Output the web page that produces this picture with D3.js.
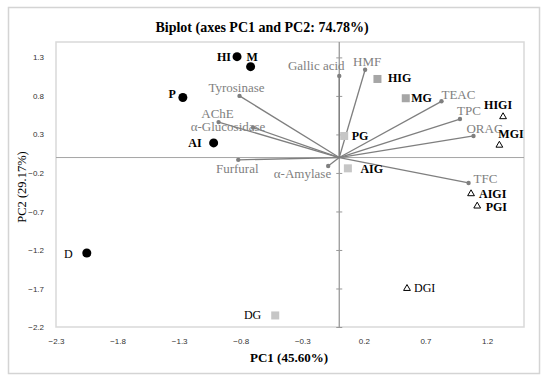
<!DOCTYPE html>
<html>
<head>
<meta charset="utf-8">
<script src="https://cdn.jsdelivr.net/npm/d3@7"></script>
<style>
  body { margin: 0; background: #fff; }
</style>
</head>
<body>
<script>

// sample scores
const sampleNames = ["HI", "M", "P", "AI", "D", "HIG", "MG", "PG", "AIG", "DG", "HIGI", "MGI", "AIGI", "PGI", "DGI"];
const samplePC1 = [-0.83, -0.72, -1.27, -1.02, -2.05, 0.31, 0.54, 0.04, 0.07, -0.52, 1.33, 1.30, 1.07, 1.12, 0.55];
const samplePC2 = [1.31, 1.18, 0.78, 0.19, -1.24, 1.02, 0.77, 0.28, -0.14, -2.05, 0.53, 0.16, -0.47, -0.63, -1.70];
const sampleGroup = ["circle", "circle", "circle", "circle", "circle",
    "square", "square", "square", "square", "square",
    "triangle", "triangle", "triangle", "triangle", "triangle"];

// variable loadings
const varNames = ["Gallic acid", "HMF", "TEAC", "TPC", "ORAC", "TFC", "α-Amylase", "Tyrosinase", "AChE", "α-Glucosidase", "Furfural"];
const varPC1 = [0.00, 0.21, 0.83, 0.98, 1.09, 1.05, -0.09, -0.81, -0.98, -0.70, -0.82];
const varPC2 = [1.06, 1.14, 0.73, 0.50, 0.28, -0.33, -0.11, 0.80, 0.46, 0.39, -0.03];

const xTicks = [-2.3, -1.8, -1.3, -0.8, -0.3, 0.2, 0.7, 1.2];
const yTicks = [-2.2, -1.7, -1.2, -0.7, -0.2, 0.3, 0.8, 1.3];

// label placement: [anchor, dx, dy]
const sampleLabelPos = {
    "HI": ["end", -6, 4], "M": ["start", -4, -5.5], "P": ["end", -7, 0.5], "AI": ["end", -12, 4.5],
    "D": ["end", -14, 4.5], "HIG": ["start", 10.5, 2.7], "MG": ["start", 5.5, 4], "PG": ["start", 7.5, 4.3],
    "AIG": ["start", 12.5, 4.7], "DG": ["end", -14, 3.8], "HIGI": ["middle", -5, -7.3], "MGI": ["start", -1, -7],
    "AIGI": ["start", 8, 4.6], "PGI": ["start", 8.5, 4.6], "DGI": ["start", 7, 3.6]
};
const varLabelPos = {
    "Gallic acid": ["middle", -23, -6], "HMF": ["middle", 2, -4], "TEAC": ["start", 0, -2],
    "TPC": ["middle", 9, -4], "ORAC": ["middle", 11, -3], "TFC": ["start", 5, 0.5],
    "α-Amylase": ["end", 3, 12], "Tyrosinase": ["middle", -3, -4], "AChE": ["middle", -1, -4],
    "α-Glucosidase": ["middle", -25, 3], "Furfural": ["middle", -1, 13]
};
const regularLabels = ["D", "DG", "DGI"];
const darkSquares = ["HIG", "MG"];

const width = 550, height = 382;
const margin = {top: 42, right: 26, bottom: 55, left: 56};
const serif = "'Liberation Serif', 'Times New Roman', serif";

const svg = d3.select("body").append("svg")
    .attr("width", width)
    .attr("height", height);

// outer frame
svg.append("rect")
    .attr("x", 8.5).attr("y", 7.5)
    .attr("width", 531).attr("height", 366)
    .attr("fill", "none")
    .attr("stroke", "#d4d4d4")
    .attr("stroke-width", 1.5);

const x = d3.scaleLinear().domain([-2.3, 1.5]).range([margin.left, width - margin.right]);
const y = d3.scaleLinear().domain([-2.2, 1.5]).range([height - margin.bottom, margin.top]);

// plot area border
svg.append("rect")
    .attr("x", x(-2.3)).attr("y", y(1.5))
    .attr("width", x(1.5) - x(-2.3)).attr("height", y(-2.2) - y(1.5))
    .attr("fill", "none")
    .attr("stroke", "#d9d9d9")
    .attr("stroke-width", 1.5);

// title
svg.append("text")
    .attr("x", 262).attr("y", 32)
    .attr("text-anchor", "middle")
    .style("font-family", serif)
    .style("font-size", "14px")
    .style("font-weight", "bold")
    .text("Biplot (axes PC1 and PC2: 74.78%)");

// tick labels
const xAxis = svg.append("g")
    .attr("transform", `translate(0, ${y(-2.2) + 8})`)
    .call(d3.axisBottom(x).tickValues(xTicks).tickSize(0).tickFormat(d3.format(".1f")));
const yAxis = svg.append("g")
    .attr("transform", `translate(${x(-2.3) - 9}, 0)`)
    .call(d3.axisLeft(y).tickValues(yTicks).tickSize(0).tickFormat(d3.format(".1f")));
[xAxis, yAxis].forEach(g => {
    g.select(".domain").remove();
    g.selectAll("text")
        .style("font-family", "'Liberation Sans', Arial, sans-serif")
        .style("font-size", "8px")
        .attr("fill", "#333");
});

// zero lines
svg.append("line")
    .attr("x1", x(-2.3)).attr("x2", x(1.5))
    .attr("y1", y(0)).attr("y2", y(0))
    .attr("stroke", "#a6a6a6").attr("stroke-width", 1);
svg.append("line")
    .attr("x1", x(0)).attr("x2", x(0))
    .attr("y1", y(1.5)).attr("y2", y(-2.2))
    .attr("stroke", "#999").attr("stroke-width", 1.3);
const crossTicks = svg.append("g")
    .attr("transform", `translate(${x(0) + 3}, 0)`)
    .call(d3.axisLeft(y).tickValues(yTicks).tickSize(6).tickFormat(""));
crossTicks.select(".domain").remove();
crossTicks.selectAll("line").attr("stroke", "#999").attr("stroke-width", 1);

// axis titles
svg.append("text")
    .attr("x", 289).attr("y", 362)
    .attr("text-anchor", "middle")
    .style("font-family", serif)
    .style("font-size", "13px")
    .style("font-weight", "bold")
    .text("PC1 (45.60%)");
svg.append("text")
    .attr("transform", `translate(26, 187) rotate(-90)`)
    .attr("text-anchor", "middle")
    .style("font-family", serif)
    .style("font-size", "12.5px")
    .text("PC2 (29.17%)");

// variable vectors
const vars = varNames.map((name, i) => ({name, pc1: varPC1[i], pc2: varPC2[i]}));
const vecG = svg.append("g");
vecG.selectAll("line")
    .data(vars)
    .join("line")
    .attr("x1", x(0)).attr("y1", y(0))
    .attr("x2", d => x(d.pc1)).attr("y2", d => y(d.pc2))
    .attr("stroke", "#7f7f7f")
    .attr("stroke-width", 1.3);
vecG.selectAll("circle")
    .data(vars)
    .join("circle")
    .attr("cx", d => x(d.pc1)).attr("cy", d => y(d.pc2))
    .attr("r", 2.2)
    .attr("fill", "#7f7f7f");
vecG.selectAll("text")
    .data(vars)
    .join("text")
    .attr("x", d => x(d.pc1) + varLabelPos[d.name][1])
    .attr("y", d => y(d.pc2) + varLabelPos[d.name][2])
    .attr("text-anchor", d => varLabelPos[d.name][0])
    .style("font-family", serif)
    .style("font-size", "13px")
    .attr("fill", "#808080")
    .text(d => d.name);

// sample points
const samples = sampleNames.map((name, i) => ({name, pc1: samplePC1[i], pc2: samplePC2[i], group: sampleGroup[i]}));
const ptG = svg.append("g");

ptG.selectAll("circle")
    .data(samples.filter(d => d.group === "circle"))
    .join("circle")
    .attr("cx", d => x(d.pc1)).attr("cy", d => y(d.pc2))
    .attr("r", 4.5)
    .attr("fill", "#000");

ptG.selectAll("rect")
    .data(samples.filter(d => d.group === "square"))
    .join("rect")
    .attr("x", d => x(d.pc1) - 4).attr("y", d => y(d.pc2) - 4)
    .attr("width", 8).attr("height", 8)
    .attr("fill", d => darkSquares.includes(d.name) ? "#a6a6a6" : "#c6c6c6");

ptG.selectAll("path")
    .data(samples.filter(d => d.group === "triangle"))
    .join("path")
    .attr("transform", d => `translate(${x(d.pc1)}, ${y(d.pc2)})`)
    .attr("d", d3.symbol(d3.symbolTriangle, 20))
    .attr("fill", "#fff")
    .attr("stroke", "#000")
    .attr("stroke-width", 1);

ptG.selectAll("text")
    .data(samples)
    .join("text")
    .attr("x", d => x(d.pc1) + sampleLabelPos[d.name][1])
    .attr("y", d => y(d.pc2) + sampleLabelPos[d.name][2])
    .attr("text-anchor", d => sampleLabelPos[d.name][0])
    .style("font-family", serif)
    .style("font-size", "12px")
    .style("font-weight", d => regularLabels.includes(d.name) ? "normal" : "bold")
    .attr("fill", "#000")
    .text(d => d.name);

</script>
</body>
</html>
